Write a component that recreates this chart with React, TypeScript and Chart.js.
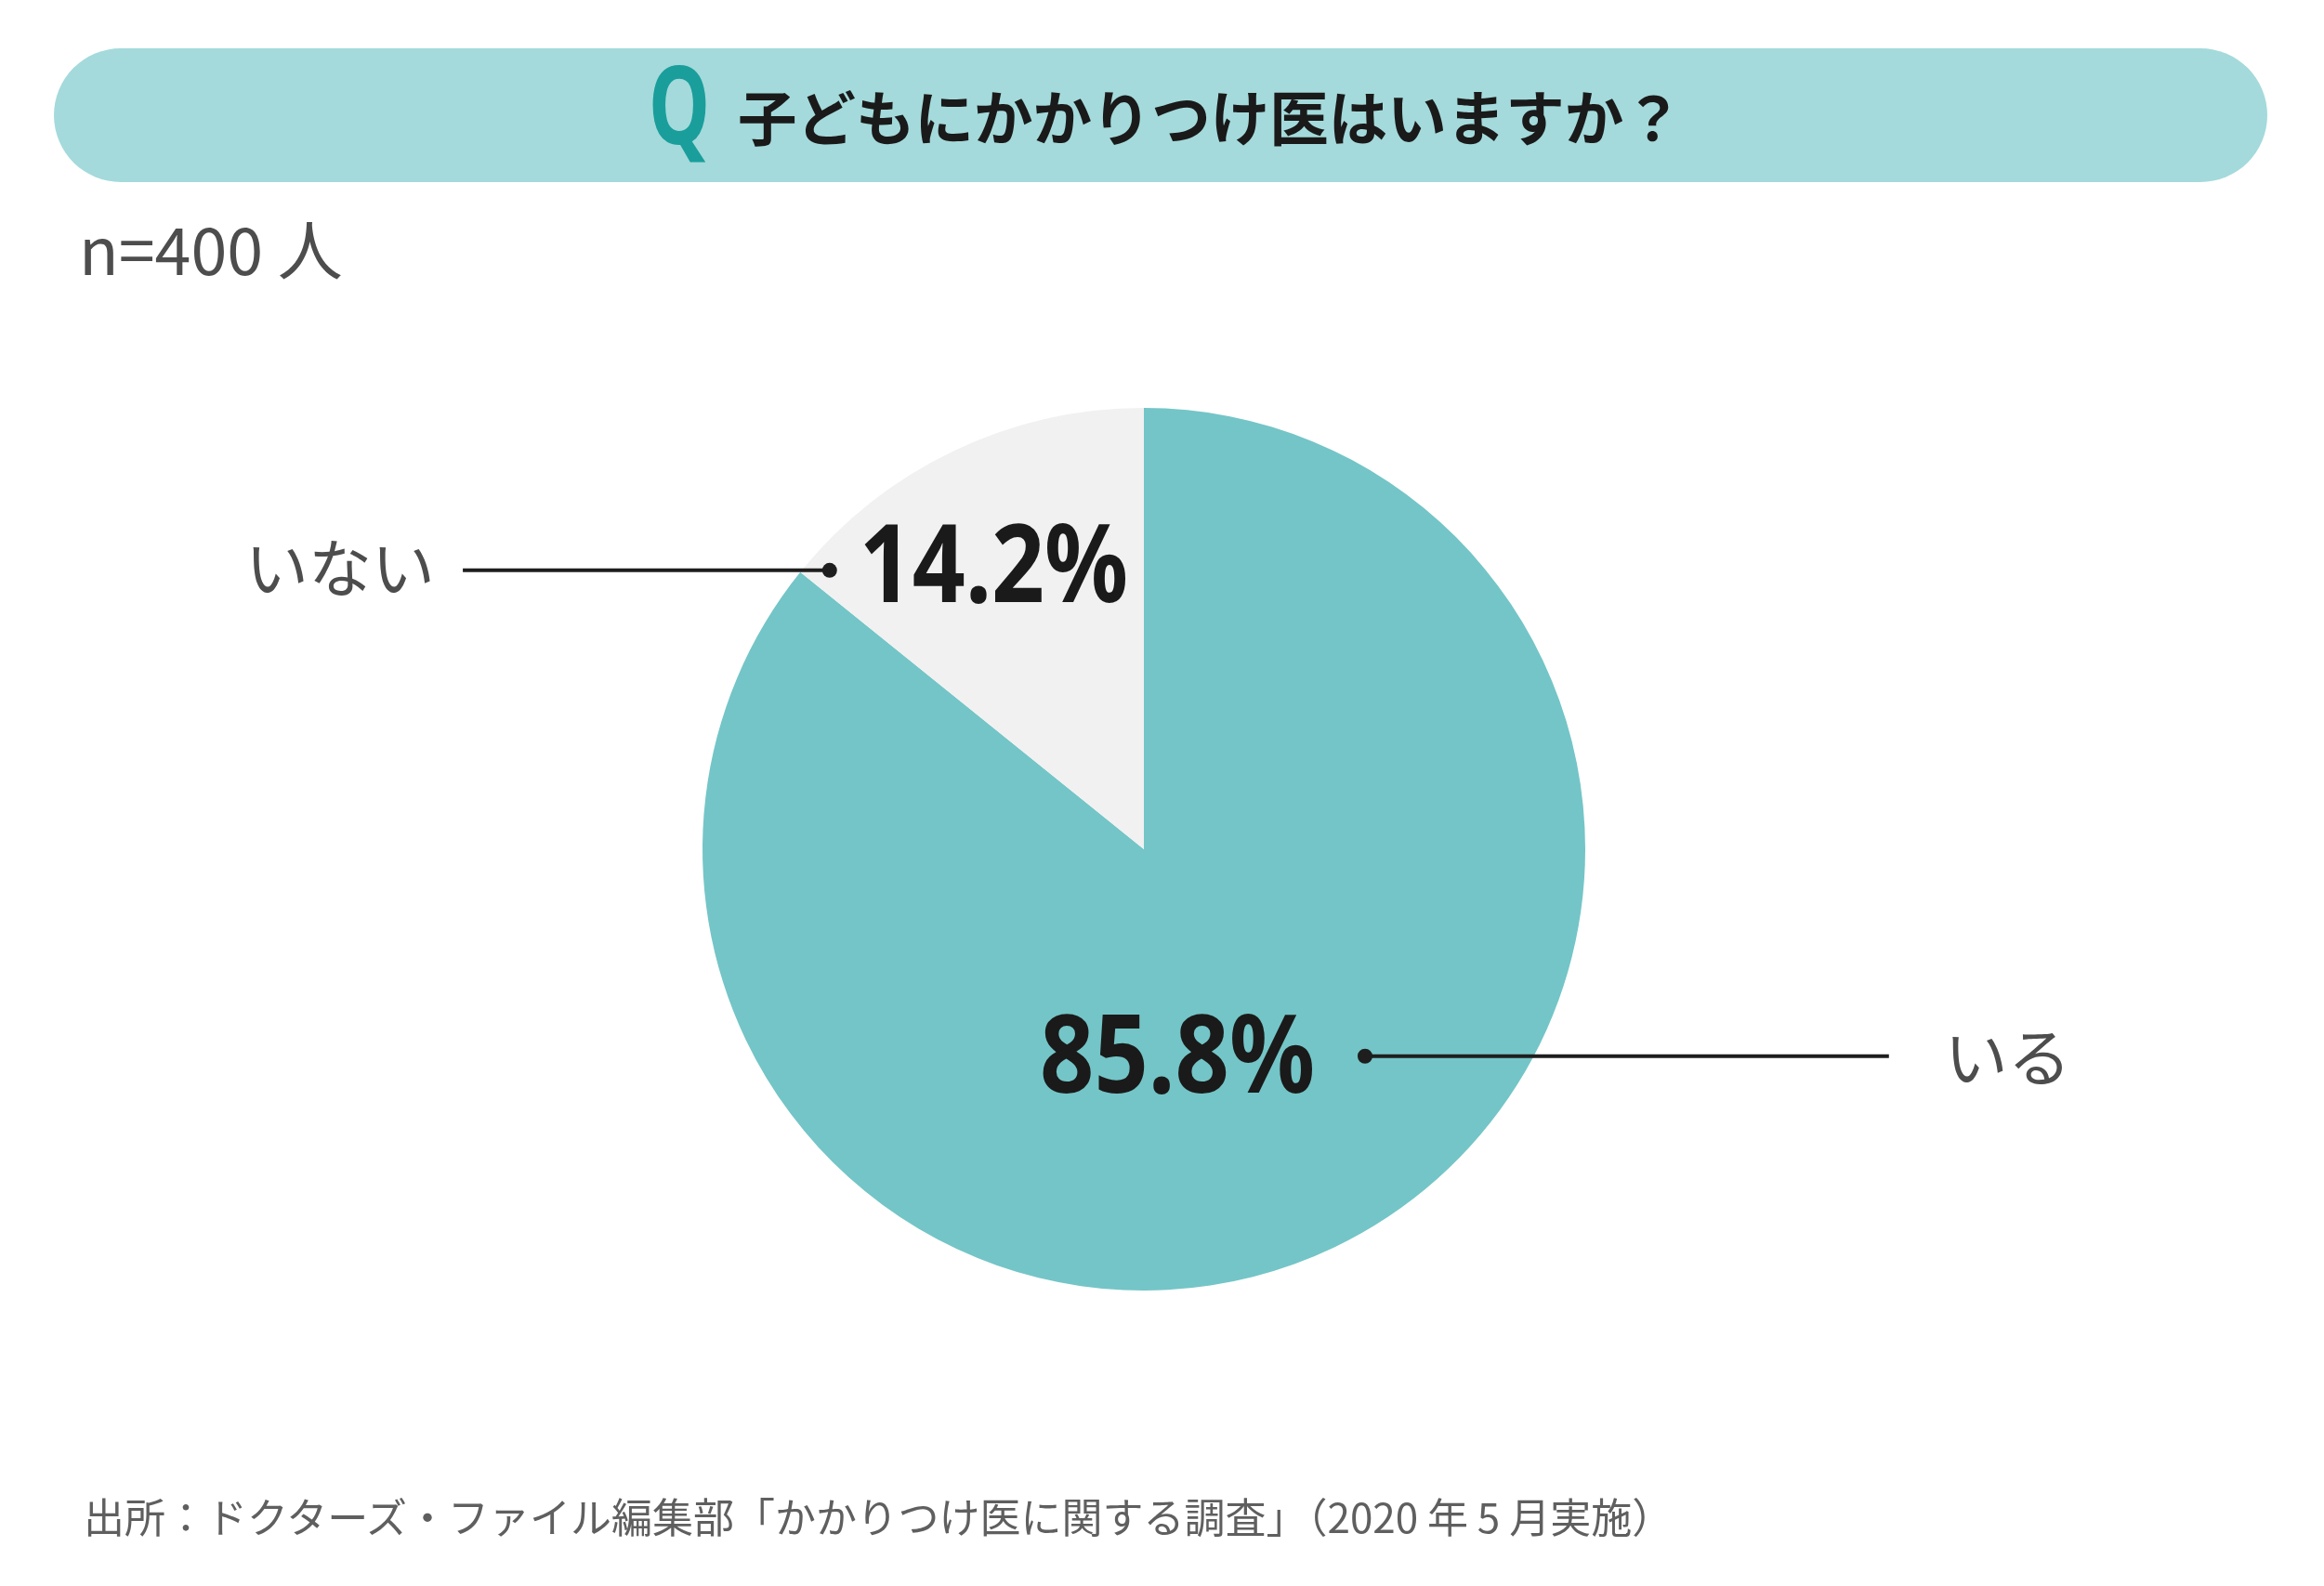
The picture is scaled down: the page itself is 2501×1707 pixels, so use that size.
import React, { useEffect, useRef } from "react";
import { Chart, registerables } from "chart.js";

Chart.register(...registerables);

// ---- data ----
const categories = ["いる", "いない"];
const values = [85.8, 14.2];
const sliceColors = ["#74C5C7", "#F1F1F1"];
const percentLabels = ["85.8%", "14.2%"];

const titleText = "子どもにかかりつけ医はいますか？";
const sampleNote = "n=400 人";
const sourceText =
  "出所：ドクターズ・ファイル編集部「かかりつけ医に関する調査」（2020 年 5 月実施）";

// callout placement, in units of the pie radius from the pie centre
const calloutDx = [0.501, -0.712];
const calloutDy = [0.469, -0.632];
const calloutLineEnd = [1.688, -1.543];

const W = 2501;
const H = 1707;

const calloutPlugin = {
  id: "callouts",
  afterDatasetsDraw(chart: any) {
    const ctx = chart.ctx as CanvasRenderingContext2D;
    const meta = chart.getDatasetMeta(0);
    const first = meta.data[0] as any;
    const { x: cx, y: cy, outerRadius: r } = first.getProps(
      ["x", "y", "outerRadius"],
      true
    );
    ctx.save();
    categories.forEach((cat, i) => {
      const dx = cx + calloutDx[i] * r;
      const dy = cy + calloutDy[i] * r;
      const ex = cx + calloutLineEnd[i] * r;
      const right = ex > dx;
      // leader line
      ctx.strokeStyle = "#1E1E1E";
      ctx.lineWidth = 4;
      ctx.beginPath();
      ctx.moveTo(dx, dy);
      ctx.lineTo(ex, dy);
      ctx.stroke();
      ctx.fillStyle = "#1E1E1E";
      ctx.beginPath();
      ctx.arc(dx, dy, 8, 0, Math.PI * 2);
      ctx.fill();
      // category label
      ctx.fillStyle = "#4D4D4D";
      ctx.font = '400 68px "Noto Sans CJK JP"';
      ctx.textBaseline = "middle";
      if (right) {
        ctx.textAlign = "left";
        ctx.fillText(cat, ex + 60, dy + 1);
      } else {
        ctx.textAlign = "right";
        ctx.fillText(cat, ex - 30, dy - 3);
      }
      // percentage label (condensed bold)
      ctx.save();
      ctx.fillStyle = "#1A1A1A";
      ctx.font = '700 116px "Noto Sans"';
      ctx.textBaseline = "alphabetic";
      if (right) {
        ctx.translate(dx - 54, dy + 39);
        ctx.scale(0.88, 1);
        ctx.textAlign = "right";
      } else {
        ctx.translate(dx + 32, dy + 34);
        ctx.scale(0.86, 1);
        ctx.textAlign = "left";
      }
      ctx.fillText(percentLabels[i], 0, 0);
      ctx.restore();
    });
    ctx.restore();
  },
};

export default function App() {
  const canvasRef = useRef<HTMLCanvasElement | null>(null);

  useEffect(() => {
    const canvas = canvasRef.current;
    if (!canvas) return;
    const chart = new Chart(canvas, {
      type: "pie",
      data: {
        labels: categories,
        datasets: [
          {
            data: values,
            backgroundColor: sliceColors,
            borderWidth: 0,
          },
        ],
      },
      options: {
        responsive: false,
        animation: false,
        devicePixelRatio: 1,
        layout: { padding: { left: 756, right: 795, top: 439, bottom: 318 } },
        plugins: {
          legend: { display: false },
          tooltip: { enabled: false },
          title: { display: false },
        },
      },
      plugins: [calloutPlugin],
    });
    return () => chart.destroy();
  }, []);

  return (
    <div
      style={{
        position: "fixed",
        left: 0,
        top: 0,
        width: W,
        height: H,
        background: "#FFFFFF",
        overflow: "hidden",
      }}
    >
      <canvas
        ref={canvasRef}
        width={W}
        height={H}
        style={{ position: "absolute", left: 0, top: 0, width: W, height: H }}
      />
      <div
        style={{
          position: "absolute",
          left: 58,
          top: 52,
          width: 2382,
          height: 144,
          borderRadius: 72,
          background: "#A4DADB",
        }}
      />
      <div
        style={{
          position: "absolute",
          left: 698,
          top: 52,
          fontFamily: '"Noto Sans", sans-serif',
          fontWeight: 700,
          fontSize: 116,
          lineHeight: 1,
          color: "#1A9E9B",
          transform: "scaleX(0.72)",
          transformOrigin: "left top",
          whiteSpace: "nowrap",
        }}
      >
        Q
      </div>
      <div
        style={{
          position: "absolute",
          left: 794,
          top: 92,
          fontFamily: '"Noto Sans CJK JP", sans-serif',
          fontWeight: 700,
          fontSize: 63.5,
          lineHeight: 1,
          color: "#1A1A1A",
          whiteSpace: "nowrap",
        }}
      >
        {titleText}
      </div>
      <div
        style={{
          position: "absolute",
          left: 85,
          top: 231,
          fontFamily: '"Noto Sans CJK JP", sans-serif',
          fontWeight: 400,
          fontSize: 70,
          lineHeight: 1,
          color: "#4D4D4D",
          whiteSpace: "nowrap",
        }}
      >
        {sampleNote}
      </div>
      <div
        style={{
          position: "absolute",
          left: 90,
          top: 1609,
          fontFamily: '"Noto Sans CJK JP", sans-serif',
          fontWeight: 400,
          fontSize: 44,
          lineHeight: 1,
          color: "#5F5F5F",
          whiteSpace: "nowrap",
        }}
      >
        {sourceText}
      </div>
    </div>
  );
}
